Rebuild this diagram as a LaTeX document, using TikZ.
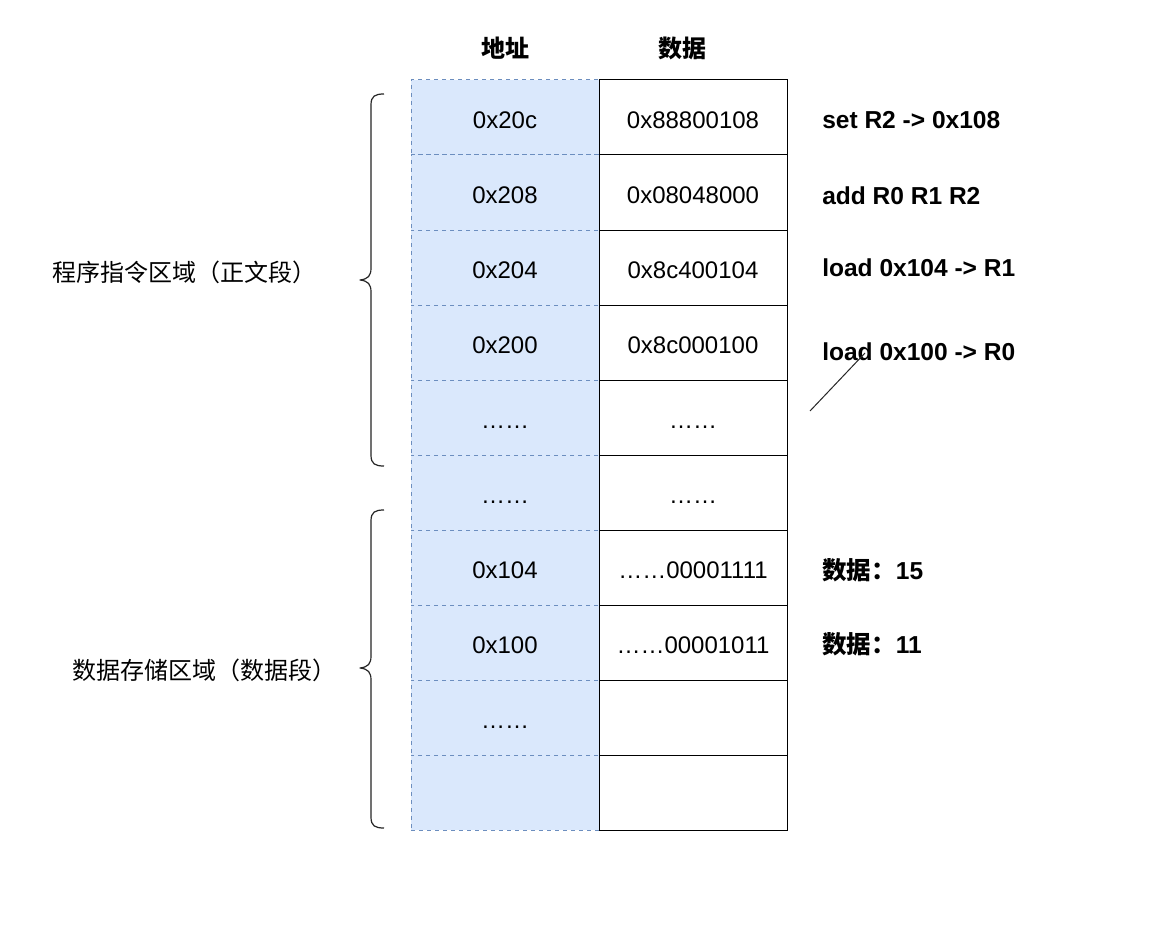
\documentclass[tikz,border=0pt]{standalone}
\usepackage{fontspec}
\setmainfont{Liberation Sans}
\newfontfamily\cjk{Noto Sans CJK SC}
\begin{document}
\begin{tikzpicture}[x=0.75pt,y=-0.75pt,
  every node/.style={font=\fontsize{18pt}{21pt}\selectfont},
  cell/.style={line width=0.75pt,minimum width=141pt,minimum height=56.25pt,inner sep=0pt,text height=20pt,text depth=3.4pt},
  addr/.style={cell,draw=addrline,fill=addrfill,dashed},
  dat/.style={cell,draw=black,fill=white},
  lbl/.style={anchor=west,inner sep=0pt,font=\fontsize{18.4pt}{21pt}\selectfont\bfseries},
  brace/.style={draw=black!85,line width=0.9pt,line join=round}]
\definecolor{addrfill}{HTML}{DAE8FC}
\definecolor{addrline}{HTML}{6C8EBF}
\useasboundingbox[fill=white] (0,0) rectangle (1165,931);
% headers
\node[font=\fontsize{18pt}{21pt}\selectfont\bfseries] (h1) at (505,48) {\cjk\bfseries 地址};
\node[font=\fontsize{18pt}{21pt}\selectfont\bfseries] (h2) at (682,48) {\cjk\bfseries 数据};
% address column
\node[addr] (a1) at (505,117.5) {0x20c};
\node[addr] (a2) at (505,192.5) {0x208};
\node[addr] (a3) at (505,267.5) {0x204};
\node[addr] (a4) at (505,342.5) {0x200};
\node[addr] (a5) at (505,417.5) {……};
\node[addr] (a6) at (505,492.5) {……};
\node[addr] (a7) at (505,567.5) {0x104};
\node[addr] (a8) at (505,642.5) {0x100};
\node[addr] (a9) at (505,717.5) {……};
\node[addr] (a10) at (505,792.5) {};
% data column
\node[dat] (d1) at (693,117.5) {0x88800108};
\node[dat] (d2) at (693,192.5) {0x08048000};
\node[dat] (d3) at (693,267.5) {0x8c400104};
\node[dat] (d4) at (693,342.5) {0x8c000100};
\node[dat] (d5) at (693,417.5) {……};
\node[dat] (d6) at (693,492.5) {……};
\node[dat] (d7) at (693,567.5) {……00001111};
\node[dat] (d8) at (693,642.5) {……00001011};
\node[dat] (d9) at (693,717.5) {};
\node[dat] (d10) at (693,792.5) {};
% right labels
\node[lbl] (l1) at (822,120) {set R2 -> 0x108};
\node[lbl] (l2) at (822,196) {add R0 R1 R2};
\node[lbl] (l3) at (822,268) {load 0x104 -> R1};
\node[lbl] (l4) at (822,352) {load 0x100 -> R0};
\node[lbl] (l5) at (822,570) {{\cjk\bfseries 数据：}15};
\node[lbl] (l6) at (822,644) {{\cjk\bfseries 数据：}11};
% left labels
\node[anchor=west,inner sep=0pt] (s1) at (52,272) {\cjk 程序指令区域（正文段）};
\node[anchor=west,inner sep=0pt] (s2) at (72,670) {\cjk 数据存储区域（数据段）};
% braces
\draw[brace] (384,94) .. controls (375,94) and (371,96) .. (371,105)
  -- (371,268) .. controls (371,276) and (368,279) .. (360,280)
  .. controls (368,281) and (371,284) .. (371,292)
  -- (371,455) .. controls (371,464) and (375,466) .. (384,466);
\draw[brace] (384,510) .. controls (375,510) and (371,512) .. (371,521)
  -- (371,656) .. controls (371,664) and (368,667) .. (360,668)
  .. controls (368,669) and (371,672) .. (371,680)
  -- (371,817) .. controls (371,826) and (375,828) .. (384,828);
% stray line
\coordinate (p1) at (810,411);
\coordinate (p2) at (865,353);
\draw[line width=0.75pt,black!85] (p1) -- (p2);
\end{tikzpicture}
\end{document}
